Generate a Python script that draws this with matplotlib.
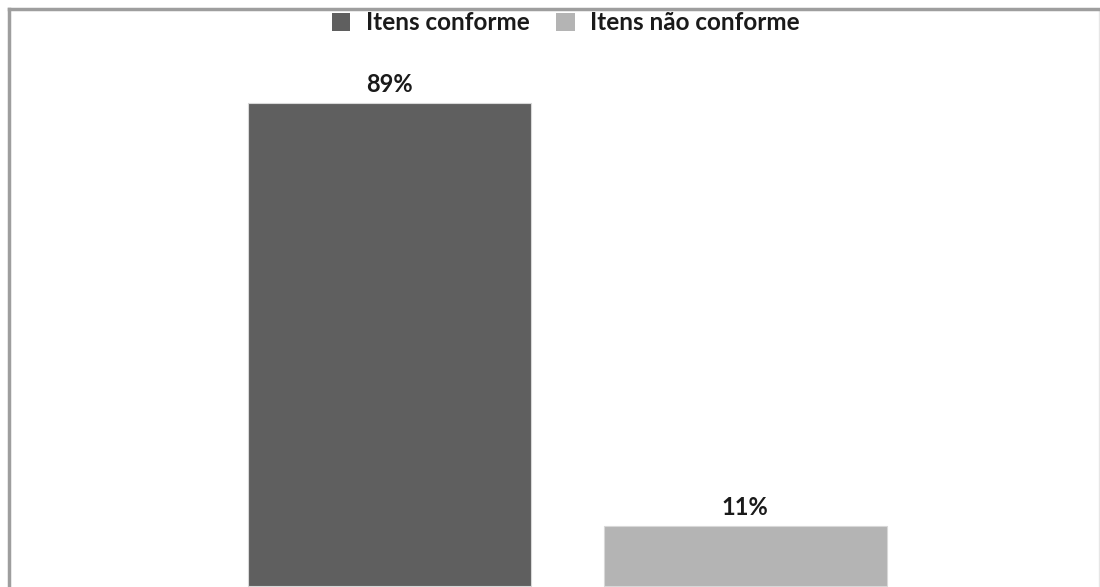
import numpy as np
import matplotlib.pyplot as plt

plt.rcParams['font.family'] = ['Lato', 'DejaVu Sans']
plt.rcParams['font.weight'] = 'bold'

series = ["Itens conforme", "Itens não conforme"]
values = [89, 11]
labels = ["89%", "11%"]
colors = ["#5f5f5f", "#b4b4b4"]

W, H = 1100, 587
fig = plt.figure(figsize=(W / 100, H / 100), dpi=100)

# axes covers from the frame line to the image edges (pixel coords)
left_px, top_px, right_px, bottom_px = 9, 9, 1099, 587
ax = fig.add_axes([left_px / W, 0, (right_px - left_px) / W, (H - top_px) / H])

px_per_unit = 355.5
c0 = 389.5
ax.set_xlim((left_px - c0) / px_per_unit, (right_px - c0) / px_per_unit)
px_per_pct = 5.43
base = 586
ax.set_ylim(-(bottom_px - base) / px_per_pct, (base - top_px) / px_per_pct)

x = np.arange(len(values))
bars = ax.bar(x, values, width=283 / px_per_unit, color=colors,
              edgecolor="#d8d8d8", linewidth=0.8)

for xi, v, lab in zip(x, values, labels):
    ax.text(xi, v + 3.4, lab, ha="center", va="center", fontsize=17,
            fontweight="bold", color="#1a1a1a")

ax.set_xticks([])
ax.set_yticks([])
ax.spines["bottom"].set_visible(False)
ax.spines["top"].set_color("#9e9e9e")
ax.spines["left"].set_color("#9e9e9e")
ax.spines["top"].set_linewidth(2.5)
ax.spines["left"].set_linewidth(2.5)
ax.spines["right"].set_color("#e6e6e6")
ax.spines["right"].set_linewidth(1)

leg = fig.legend(handles=list(bars), labels=series, loc="center",
                 bbox_to_anchor=(566 / W, 1 - 23 / H), ncol=2, frameon=False,
                 fontsize=17.5, handlelength=0.75, handleheight=0.75,
                 handletextpad=0.65, columnspacing=1.1)
for t in leg.get_texts():
    t.set_color("#1a1a1a")
    t.set_fontweight("bold")
for p in leg.get_patches():
    p.set_edgecolor("none")

fig.savefig("out.png", dpi=100)
